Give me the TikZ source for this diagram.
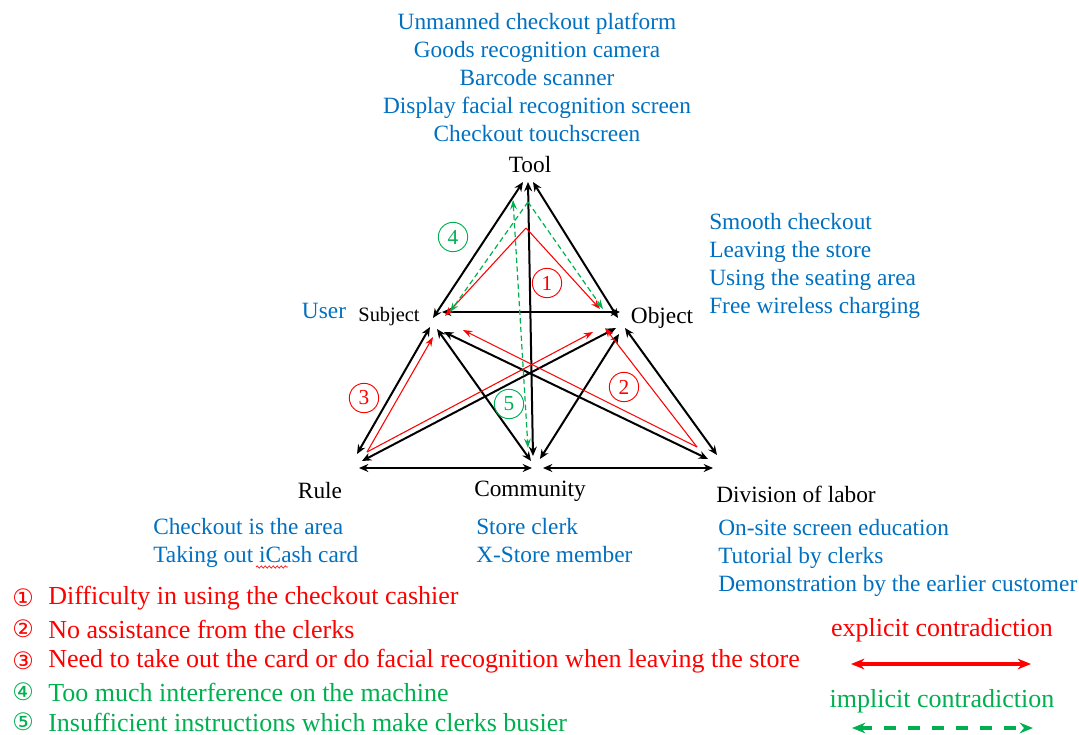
\documentclass[tikz,border=0pt]{standalone}
\usepackage{fontspec}
\setmainfont{Liberation Serif}
\newfontfamily\symfont{DejaVu Sans}
\usetikzlibrary{arrows.meta,decorations.pathmorphing}
\definecolor{cblue}{RGB}{0,112,192}
\definecolor{cred}{RGB}{255,0,0}
\definecolor{cgreen}{RGB}{0,176,80}
\begin{document}
\begin{tikzpicture}[x=0.75pt,y=-0.75pt,
  txt/.style={inner sep=0pt,font=\fontsize{17.5}{21}\selectfont},
  bluetxt/.style={txt,text=cblue},
  blk/.style={line width=1.5pt,{Stealth[length=7pt,width=6pt]}-{Stealth[length=7pt,width=6pt]}},
  redarr/.style={cred,line width=0.8pt,-{Stealth[length=7pt,width=5pt]}},
  grnarr/.style={cgreen,line width=0.9pt,dashed,dash pattern=on 4pt off 2.5pt,-{Stealth[length=7pt,width=5pt]}},
  numc/.style={circle,draw,line width=0.7pt,minimum size=22pt,inner sep=0pt,font=\fontsize{16}{18}\selectfont},
  legnum/.style={inner sep=0pt,font=\symfont\fontsize{18}{20}\selectfont,anchor=west},
  legtxt/.style={inner sep=0pt,font=\fontsize{19.5}{22}\selectfont,anchor=west},
  legarr/.style={line width=2.4pt,{Stealth[length=10pt,width=8pt]}-{Stealth[length=10pt,width=8pt]}}]
\useasboundingbox (0,0) rectangle (1079,735);

% vertex ends
\coordinate (tL) at (523,182); \coordinate (tM) at (528,182); \coordinate (tR) at (533,182);
\coordinate (sT) at (433,318); \coordinate (sO) at (442,312); \coordinate (sR) at (430,327);
\coordinate (sC) at (437,329); \coordinate (sD) at (444,332);
\coordinate (oT) at (618,318); \coordinate (oS) at (620,312); \coordinate (oR) at (616,328);
\coordinate (oC) at (619,334); \coordinate (oD) at (625,328);
\coordinate (rS) at (357,454); \coordinate (rO) at (362,461); \coordinate (rC) at (359,468);
\coordinate (cT) at (533,456); \coordinate (cS) at (531,461); \coordinate (cO) at (540,459);
\coordinate (cR) at (532,468); \coordinate (cD) at (543,468);
\coordinate (dS) at (708,459); \coordinate (dO) at (717,455); \coordinate (dC) at (713,468);

% black relations
\draw[blk] (tL) -- (sT);
\draw[blk] (tR) -- (oT);
\draw[blk] (tM) -- (cT);
\draw[blk] (sO) -- (oS);
\draw[blk] (sR) -- (rS);
\draw[blk] (sC) -- (cS);
\draw[blk] (sD) -- (dS);
\draw[blk] (oR) -- (rO);
\draw[blk] (oC) -- (cO);
\draw[blk] (oD) -- (dO);
\draw[blk] (rC) -- (cR);
\draw[blk] (cD) -- (dC);

% explicit contradictions
\coordinate (r1) at (526,228); \coordinate (r1a) at (445,316); \coordinate (r1b) at (600,309);
\coordinate (r2) at (697,447); \coordinate (r2a) at (463,330); \coordinate (r2b) at (605,328);
\coordinate (r3) at (367,452); \coordinate (r3a) at (433,337); \coordinate (r3b) at (593,332);
\draw[redarr] (r1) -- (r1a); \draw[redarr] (r1) -- (r1b);
\draw[redarr] (r2) -- (r2a); \draw[redarr] (r2) -- (r2b);
\draw[redarr] (r3) -- (r3a); \draw[redarr] (r3) -- (r3b);

% implicit contradictions
\coordinate (g4) at (528,202); \coordinate (g4a) at (450,312); \coordinate (g4b) at (603,309);
\coordinate (g5a) at (513,200); \coordinate (g5b) at (528,448);
\draw[grnarr] (g4) -- (g4a); \draw[grnarr] (g4) -- (g4b);
\draw[grnarr,{Stealth[length=7pt,width=5pt]}-{Stealth[length=7pt,width=5pt]}] (g5a) -- (g5b);

% circled markers
\node[numc,cred] (m1) at (547,283) {1};
\node[numc,cred] (m2) at (624,387) {2};
\node[numc,cred] (m3) at (364,398) {3};
\node[numc,cgreen] (m4) at (453,237) {4};
\node[numc,cgreen] (m5) at (509,404) {5};

% element names
\node[txt] (tool) at (530,165) {Tool};
\node[txt,font=\fontsize{15.3}{18}\selectfont] (subj) at (389,317) {Subject};
\node[txt] (obj) at (662,318) {Object};
\node[txt] (rule) at (320,491) {Rule};
\node[txt] (comm) at (530,491) {Community};
\node[txt] (div) at (796,494) {Division of labor};
\node[bluetxt] (user) at (324,311) {User};

% descriptions
\node[bluetxt,align=center,anchor=north] (toolx) at (537,13)
  {Unmanned checkout platform\\Goods recognition camera\\Barcode scanner\\Display facial recognition screen\\Checkout touchscreen};
\node[bluetxt,align=left,anchor=north west] (objx) at (709,213)
  {Smooth checkout\\Leaving the store\\Using the seating area\\Free wireless charging};
\node[bluetxt,align=left,anchor=north west] (rulex) at (153,518)
  {Checkout is the area\\Taking out iCash card};
\node[bluetxt,align=left,anchor=north west] (commx) at (476,518)
  {Store clerk\\X-Store member};
\node[bluetxt,align=left,anchor=north west] (divx) at (718,519)
  {On-site screen education\\Tutorial by clerks\\Demonstration by the earlier customer};
\coordinate (sq1) at (256,567); \coordinate (sq2) at (288,567);
\draw[cred,line width=0.5pt,decorate,decoration={snake,amplitude=0.8pt,segment length=3pt}] (sq1) -- (sq2);

% legend
\node[legnum,text=cred] (l1) at (12,598) {①};
\node[legnum,text=cred] (l2) at (12,629) {②};
\node[legnum,text=cred] (l3) at (12,661) {③};
\node[legnum,text=cgreen] (l4) at (12,692) {④};
\node[legnum,text=cgreen] (l5) at (12,722) {⑤};
\node[legtxt,text=cred] (t1) at (48,598) {Difficulty in using the checkout cashier};
\node[legtxt,text=cred] (t2) at (48,629) {No assistance from the clerks};
\node[legtxt,text=cred] (t3) at (48,661) {Need to take out the card or do facial recognition when leaving the store};
\node[legtxt,text=cgreen] (t4) at (48,692) {Too much interference on the machine};
\node[legtxt,text=cgreen] (t5) at (48,722) {Insufficient instructions which make clerks busier};

\node[legtxt,anchor=center,text=cred] (exl) at (942,630) {explicit contradiction};
\node[legtxt,anchor=center,text=cgreen] (iml) at (942,701) {implicit contradiction};
\coordinate (ea) at (851,664); \coordinate (eb) at (1031,664);
\coordinate (ia) at (852,728); \coordinate (ib) at (1033,728);
\draw[cred,legarr] (ea) -- (eb);
\draw[cgreen,legarr,dash pattern=on 9pt off 9pt] (ia) -- (ib);
\end{tikzpicture}
\end{document}
